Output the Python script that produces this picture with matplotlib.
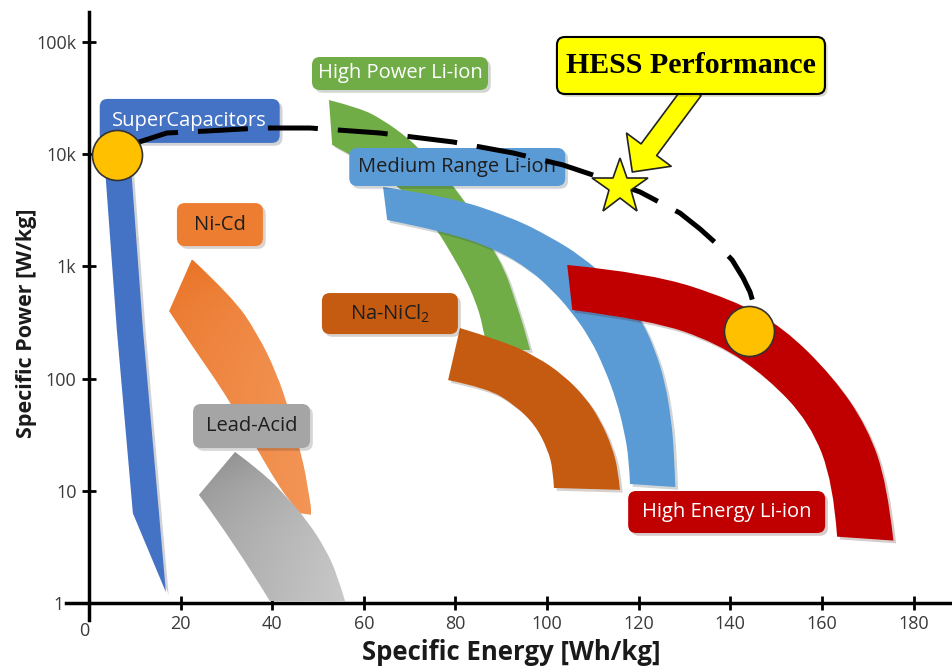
import numpy as np
import matplotlib
matplotlib.use("Agg")
import matplotlib.pyplot as plt
from matplotlib.patches import Polygon, PathPatch, FancyBboxPatch, FancyArrowPatch
from matplotlib.path import Path
from matplotlib.colors import LinearSegmentedColormap
from matplotlib.ticker import NullLocator
from matplotlib.transforms import ScaledTranslation
import matplotlib.patheffects as pe

plt.rcParams['font.family'] = ['Open Sans', 'DejaVu Sans']

# region outlines: energy [Wh/kg], power [W/kg]
supercap_e = [3.5, 9.0, 9.4, 11.8, 16.8, 9.6, 6.1, 3.7]
supercap_p = [10900, 10900, 5900, 270, 1.25, 6.3, 270, 5900]

nicd_outer_e = [22.5, 31.4, 36.7, 41.0, 43.9, 46.1, 47.6, 48.7]
nicd_outer_p = [1160, 530, 255, 112, 49, 23, 12.5, 6.1]
nicd_inner_e = [17.5, 22.7, 27.5, 31.9, 36.2, 40.0, 43.5, 46.1]
nicd_inner_p = [400, 190, 100, 52, 25.6, 13.8, 8.3, 6.3]

lead_right_e = [31.9, 37.8, 43.2, 47.8, 51.5, 54.2, 55.9]
lead_right_p = [22.2, 14.7, 8.8, 5.3, 3.1, 1.8, 1.04]
lead_left_e = [24.0, 31.4, 39.5]
lead_left_p = [9.2, 3.6, 1.04]

hp_outer_e = [52.4, 59.2, 64.2, 69.4, 72.3, 76.6, 81.0, 84.7, 87.6, 90.8, 93.0, 94.8, 96.3]
hp_outer_p = [30400, 25800, 20200, 14200, 10900, 7230, 4330, 2590, 1550, 930, 500, 300, 180]
hp_inner_e = [53.1, 59.2, 65.7, 71.2, 76.0, 79.3, 82.1, 84.3, 86.0, 86.9]
hp_inner_p = [12100, 8900, 5900, 3750, 2110, 1260, 790, 500, 300, 180]

mr_outer_e = [64.2, 78.2, 92.6, 100.7, 107.2, 114.4, 120.3, 123.6, 125.8, 127.1, 127.7, 128.0]
mr_outer_p = [5100, 4240, 2700, 1830, 1260, 710, 354, 180, 91, 43, 23, 10.8]
mr_inner_e = [65.1, 78.2, 89.1, 96.3, 101.1, 105.0, 109.4, 112.7, 115.1, 116.8, 117.9, 118.1]
mr_inner_p = [2590, 2030, 1400, 930, 616, 409, 230, 119, 64.5, 34.8, 18.8, 11.5]

na_outer_e = [81.0, 90.4, 97.8, 103.5, 108.3, 111.6, 114.2, 115.5, 115.9]
na_outer_p = [282, 216, 156, 108, 68.6, 42.8, 24.6, 15.3, 10.2]
na_inner_e = [78.4, 86.9, 93.0, 97.4, 100.2, 101.3, 101.5]
na_inner_p = [97, 82.5, 58, 38.6, 23.1, 15.3, 10.6]

he_outer_e = [104.4, 122.5, 140.6, 151.5, 162.5, 169.9, 174.2, 175.6]
he_outer_p = [1030, 873, 502, 288, 103, 37, 11.7, 3.6]
he_inner_e = [105.5, 122.5, 137.1, 148.0, 157.4, 162.5, 163.3]
he_inner_p = [409, 333, 208, 103, 40.2, 11.7, 3.9]

# HESS trade-off curve and its end points
hess_e = [8.95, 17.0, 25.8, 37.3, 48.3, 63.5, 79.5, 92.6, 103.5, 110.0, 120.3, 129.0, 133.4, 137.3, 140.4, 142.8, 144.3, 145.2]
hess_p = [12080, 15450, 16100, 17120, 17120, 15450, 12850, 10250, 8010, 6525, 4605, 2990, 2154, 1550, 1140, 788, 591, 444]
ends_e = [6.1, 144.1]
ends_p = [9840, 266]
star_e, star_p = 115.9, 5100

label_text = ["SuperCapacitors", "High Power Li-ion", "Medium Range Li-ion", "Ni-Cd",
              r"Na-NiCl$_\mathregular{2}$", "Lead-Acid", "High Energy Li-ion"]
label_e = [22.0, 67.9, 80.4, 28.6, 65.7, 35.5, 139.2]
label_p = [19800, 52400, 7690, 2360, 380, 37.8, 6.47]

x_ticks = [0, 20, 40, 60, 80, 100, 120, 140, 160, 180]
y_ticks = [1, 10, 100, 1e3, 1e4, 1e5]
y_tick_labels = ["1", "10", "100", "1k", "10k", "100k"]

fig = plt.figure(figsize=(9.53, 6.66), dpi=100)
ax_w, ax_h = 887, 608
ax = fig.add_axes([66 / 953, 46 / 666, ax_w / 953, ax_h / 666])
ax.set_yscale('log')
ax.set_xlim(-5.0, 188.6)
ax.set_ylim(0.7054, 185100)
ax.set_autoscale_on(False)

shadow = [pe.SimplePatchShadow(offset=(2, -2), alpha=0.2), pe.Normal()]


def chain(e, p):
    # smooth edge through the read points (midpoints taken in log power)
    v, c = [], []
    for i in range(1, len(e) - 1):
        v.append((e[i], p[i]))
        if i < len(e) - 2:
            v.append(((e[i] + e[i + 1]) / 2, np.sqrt(p[i] * p[i + 1])))
        else:
            v.append((e[i + 1], p[i + 1]))
        c += [Path.CURVE3, Path.CURVE3]
    return v, c


def band(oe, op, ie, ip):
    v1, c1 = chain(oe, op)
    v2, c2 = chain(ie[::-1], ip[::-1])
    verts = [(oe[0], op[0])] + v1 + [(ie[-1], ip[-1])] + v2 + [(oe[0], op[0])]
    codes = [Path.MOVETO] + c1 + [Path.LINETO] + c2 + [Path.CLOSEPOLY]
    return Path(verts, codes)


def solid(path, color, z):
    ax.add_patch(PathPatch(path, fc=color, ec='none', zorder=z, path_effects=shadow))


def gradient(path, c0, c1, z):
    patch = PathPatch(path, fc='none', ec='none', zorder=z)
    ax.add_patch(patch)
    n = 200
    g = (np.linspace(0, 1, n)[None, :] + np.linspace(1, 0, n)[:, None]) / 2
    cmap = LinearSegmentedColormap.from_list('g', [c0, c1])
    xy = path.vertices
    im = ax.imshow(g, cmap=cmap, origin='lower', aspect='auto', zorder=z,
                   extent=[xy[:, 0].min(), xy[:, 0].max(), xy[:, 1].min(), xy[:, 1].max()])
    im.set_clip_path(patch)


solid(band(hp_outer_e, hp_outer_p, hp_inner_e, hp_inner_p), '#70AD47', 1)
solid(band(mr_outer_e, mr_outer_p, mr_inner_e, mr_inner_p), '#5B9BD5', 2)
solid(band(na_outer_e, na_outer_p, na_inner_e, na_inner_p), '#C55A11', 3)
solid(band(he_outer_e, he_outer_p, he_inner_e, he_inner_p), '#C00000', 4)
ax.add_patch(Polygon(np.column_stack([supercap_e, supercap_p]), closed=True,
                     fc='#4472C4', ec='none', zorder=2, path_effects=shadow))
gradient(band(nicd_outer_e, nicd_outer_p, nicd_inner_e, nicd_inner_p), '#E86F20', '#F39556', 2)
gradient(band(lead_right_e, lead_right_p, lead_left_e, lead_left_p), '#8A8A8A', '#C8C8C8', 3)

# label boxes
to_axes = ax.transData + ax.transAxes.inverted()
box_w = [180, 176, 216, 86, 136, 117, 197]
box_h = [44, 33, 38, 43, 41, 44, 42]
box_fc = ['#4472C4', '#70AD47', '#5B9BD5', '#ED7D31', '#C55A11', '#A5A5A5', '#C00000']
text_c = ['white', 'white', '#1E1E1E', '#1E1E1E', '#1E1E1E', '#1E1E1E', 'white']


def label_box(e, p, w, h, text, fc, tc, z, ec='none', lw=0, **kw):
    cx, cy = to_axes.transform((e, p))
    bw, bh = w / ax_w, h / ax_h
    ax.add_patch(FancyBboxPatch((cx - bw / 2, cy - bh / 2), bw, bh,
                                boxstyle="round,pad=0,rounding_size=0.009",
                                mutation_aspect=ax_w / ax_h, transform=ax.transAxes,
                                fc=fc, ec=ec, lw=lw, zorder=z, path_effects=shadow))
    ax.text(cx, cy, text, transform=ax.transAxes, ha='center', va='center',
            color=tc, zorder=z + 0.1, **kw)


for i in range(len(label_text)):
    label_box(label_e[i], label_p[i], box_w[i], box_h[i], label_text[i],
              box_fc[i], text_c[i], 5, fontsize=14.5)

# HESS curve, operating points, star, callout
ax.plot(hess_e, hess_p, color='black', lw=3.6, ls=(0, (10, 4)), zorder=6,
        solid_capstyle='butt', dash_capstyle='butt')
ax.scatter(ends_e, ends_p, s=1296, c='#FFC000', edgecolors='#333333', linewidths=1.2, zorder=7)
ax.plot(star_e, star_p, marker='*', ms=42, mfc='#FFFF00', mec='#222222', mew=1.2, zorder=8)
ax.add_patch(FancyArrowPatch((131.9, 37350), (118.6, 6940),
                             arrowstyle='simple,head_length=1.0,head_width=2.0,tail_width=0.7',
                             mutation_scale=20, fc='#FFFF00', ec='#222222', lw=1.2,
                             shrinkA=0, shrinkB=0, zorder=8))
label_box(131.4, 61750, 268, 57, "HESS Performance", '#FFFF00', 'black', 9,
          ec='black', lw=1.5, fontsize=21.5, fontweight='bold', family='Liberation Serif')

# axes
for s in ['top', 'right']:
    ax.spines[s].set_visible(False)
ax.spines['left'].set_position(('data', 0))
ax.spines['bottom'].set_position(('data', 1))
for s in ['left', 'bottom']:
    ax.spines[s].set_linewidth(2.5)
ax.set_xticks(x_ticks)
ax.set_yticks(y_ticks)
ax.set_yticklabels(y_tick_labels)
ax.yaxis.set_minor_locator(NullLocator())
ax.tick_params(direction='inout', length=10, width=2, labelsize=13, labelcolor='#3A3A3A', pad=4)

# corner labels sit a little apart in the original
t0 = ax.yaxis.get_major_ticks()[0].label1
t0.set_transform(t0.get_transform() + ScaledTranslation(-0.13, 0, fig.dpi_scale_trans))
t0 = ax.xaxis.get_major_ticks()[0].label1
t0.set_transform(t0.get_transform() + ScaledTranslation(-0.05, -0.07, fig.dpi_scale_trans))

fig.text(511 / 953, 1 - 652 / 666, "Specific Energy [Wh/kg]", ha='center', va='center',
         fontsize=18.5, fontweight='bold', color='#1A1A1A')
fig.text(27 / 953, 1 - 323 / 666, "Specific Power [W/kg]", ha='center', va='center',
         rotation=90, fontsize=15.5, fontweight='bold', color='#1A1A1A')

fig.savefig("out.png", dpi=100)
